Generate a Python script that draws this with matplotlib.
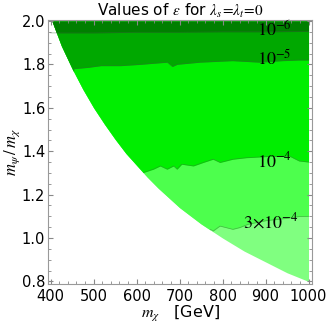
import numpy as np
import matplotlib
matplotlib.use("Agg")
import matplotlib.pyplot as plt
from matplotlib.ticker import MultipleLocator

plt.rcParams['mathtext.fontset'] = 'stix'
plt.rcParams['font.family'] = 'DejaVu Sans'

# kinematic edge of the allowed region (below it: white)
edge_m = [403, 425, 450, 475, 500, 525, 550, 575, 600, 625, 650, 675, 700, 750,
          800, 850, 900, 950, 1000]
edge_r = [2.0, 1.885, 1.78, 1.685, 1.6, 1.525, 1.455, 1.39, 1.335, 1.28, 1.23,
          1.185, 1.14, 1.065, 1.0, 0.94, 0.89, 0.84, 0.80]

# contour lines of epsilon
c6_m = [400, 500, 600, 700, 800, 900, 1000]
c6_r = [1.945, 1.945, 1.948, 1.948, 1.95, 1.95, 1.952]

c5_m = [454, 487, 517, 563, 609, 671, 683, 694, 747, 823, 886, 939, 978, 1000]
c5_r = [1.78, 1.786, 1.794, 1.794, 1.80, 1.81, 1.79, 1.80, 1.81, 1.817, 1.81, 1.817, 1.82, 1.82]

c4_m = [616, 639, 655, 671, 686, 694, 705, 732, 755, 778, 794, 824, 855, 900, 955, 978, 1000]
c4_r = [1.302, 1.317, 1.332, 1.317, 1.332, 1.317, 1.34, 1.332, 1.348, 1.363, 1.348,
        1.363, 1.37, 1.375, 1.378, 1.355, 1.35]

c3_m = [772, 778, 794, 824, 840, 859, 901, 947, 978, 1000]
c3_r = [1.04, 1.032, 1.055, 1.04, 1.048, 1.063, 1.08, 1.09, 1.099, 1.10]

# colour of each band, lightest (bottom) to darkest (top)
band_colors = ['#80ff80', '#4dff4d', '#00ee00', '#00a800', '#007f00']
lines = [(c3_m, c3_r), (c4_m, c4_r), (c5_m, c5_r), (c6_m, c6_r)]

labels = [r'$3{\times}10^{-4}$', r'$10^{-4}$', r'$10^{-5}$', r'$10^{-6}$']
label_m = [912, 920, 920, 920]
label_r = [1.075, 1.355, 1.825, 1.955]

fig = plt.figure(figsize=(3.27, 3.26), dpi=100)
ax = fig.add_axes([0.147, 0.13, 0.807, 0.809])

xg = np.linspace(400, 1000, 1201)
edge = np.interp(xg, edge_m, edge_r, left=3.0)
top = 2.0

ax.fill_between(xg, edge, top, where=edge < top, color=band_colors[0], lw=0)
for (lm, lr), col in zip(lines, band_colors[1:]):
    low = np.maximum(np.interp(xg, lm, lr, left=0.0), edge)
    ax.fill_between(xg, low, top, where=low < top, color=col, lw=0)
    ax.plot(lm, lr, color='#3a6a3a', lw=0.5, alpha=0.5)

for t, m, r in zip(labels, label_m, label_r):
    ax.text(m, r, t, fontsize=13, ha='center', va='center')

ax.set_xlim(394, 1008)
ax.set_ylim(0.79, 2.005)
ax.xaxis.set_major_locator(MultipleLocator(100))
ax.xaxis.set_minor_locator(MultipleLocator(20))
ax.yaxis.set_major_locator(MultipleLocator(0.2))
ax.yaxis.set_minor_locator(MultipleLocator(0.05))
ax.yaxis.set_major_formatter(matplotlib.ticker.FormatStrFormatter('%.1f'))
ax.tick_params(which='both', direction='in', top=True, right=True, color='#888888',
               labelsize=10.5)
ax.tick_params(axis='x', pad=4)
ax.tick_params(axis='y', pad=2)
ax.tick_params(which='major', length=3.5)
ax.tick_params(which='minor', length=2)
for s in ax.spines.values():
    s.set_color('#999999')
    s.set_linewidth(0.8)

ax.set_title(r'Values of $\epsilon$ for $\lambda_s\!=\!\lambda_t\!=\!0$', fontsize=11, pad=3)
ax.set_xlabel(r'$m_\chi$   [GeV]', fontsize=11.5, labelpad=0)
ax.set_ylabel(r'$m_\psi\,/\,m_\chi$', fontsize=12, labelpad=0)

fig.savefig('out.png', dpi=100)
